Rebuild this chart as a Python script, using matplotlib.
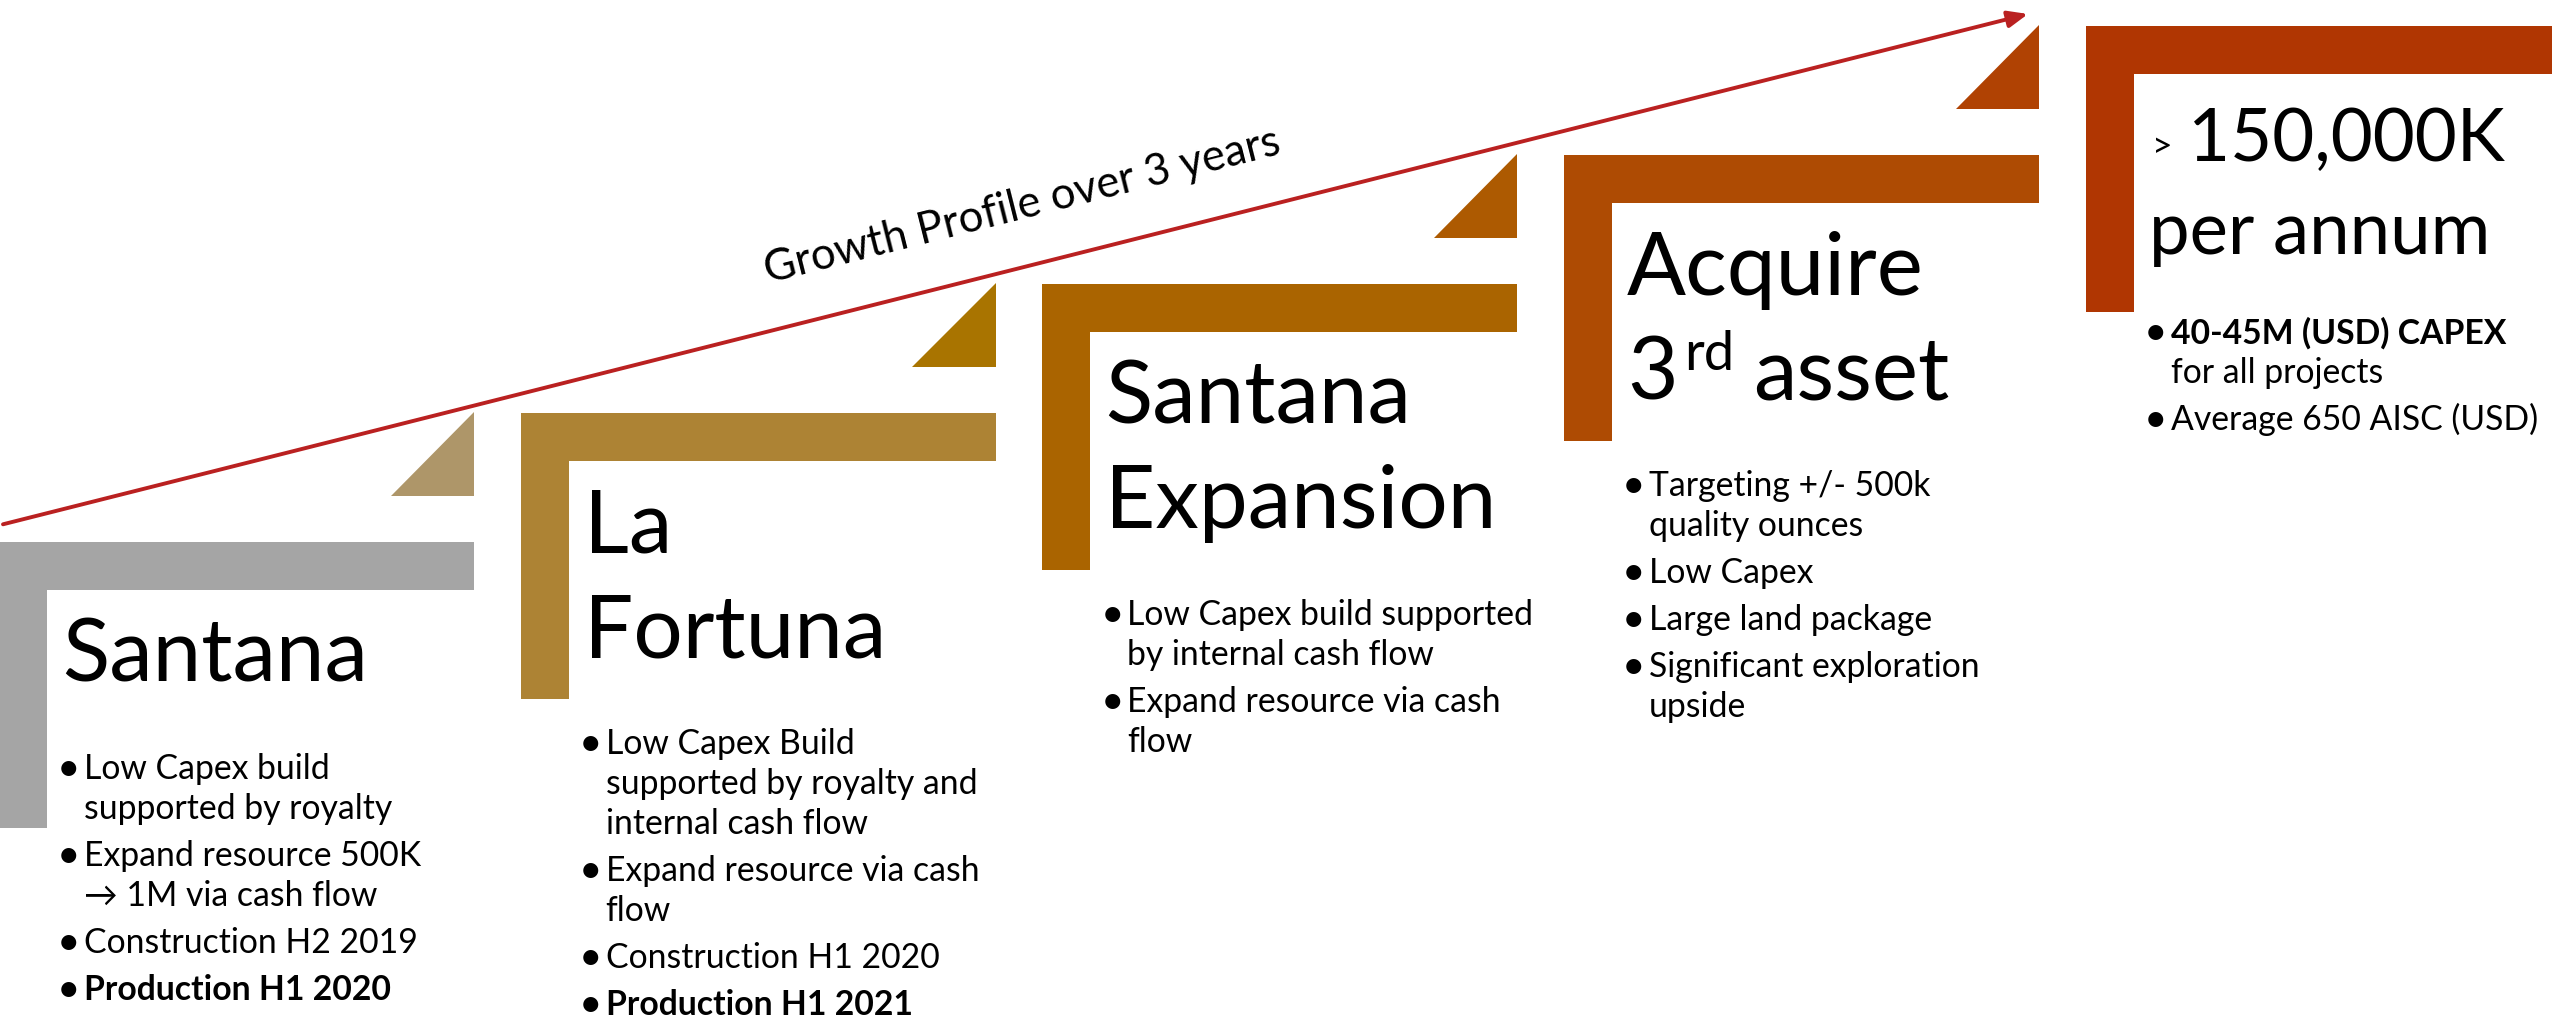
import math
import matplotlib
matplotlib.use("Agg")
import matplotlib.pyplot as plt
from matplotlib.patches import Polygon
from matplotlib.patches import ArrowStyle

plt.rcParams['font.family'] = ['Lato', 'DejaVu Sans']

W, H, DPI = 2552, 1025, 100

# ---------------- data ----------------
step_titles = ["Santana", "La\nFortuna", "Santana\nExpansion", "Acquire\n3rd asset", ">150,000K\nper annum"]
step_colors = ["#A5A5A5", "#AD8334", "#AA6400", "#AE4B03", "#B03602"]
marker_colors = ["#AE9669", "#A97400", "#AD5A01", "#B04203"]

santana_bullets = [["Low Capex build", "supported by royalty"],
                   ["Expand resource 500K", "\u2192 1M via cash flow"],
                   ["Construction H2 2019"],
                   ["Production H1 2020"]]
fortuna_bullets = [["Low Capex Build", "supported by royalty and", "internal cash flow"],
                   ["Expand resource via cash", "flow"],
                   ["Construction H1 2020"],
                   ["Production H1 2021"]]
expansion_bullets = [["Low Capex build supported", "by internal cash flow"],
                     ["Expand resource via cash", "flow"]]
acquire_bullets = [["Targeting +/- 500k", "quality ounces"],
                   ["Low Capex"],
                   ["Large land package"],
                   ["Significant exploration", "upside"]]
target_bullets = [["40-45M (USD) CAPEX", "for all projects"],
                  ["Average 650 AISC (USD)"]]
all_bullets = [santana_bullets, fortuna_bullets, expansion_bullets, acquire_bullets, target_bullets]
bold_lines = ["Production H1 2020", "Production H1 2021", "40-45M (USD) CAPEX"]
growth_label = "Growth Profile over 3 years"

# ---------------- figure ----------------
fig = plt.figure(figsize=(W / DPI, H / DPI), dpi=DPI)
ax = fig.add_axes([0, 0, 1, 1])
ax.set_xlim(0, W)
ax.set_ylim(H, 0)
ax.axis('off')
renderer = fig.canvas.get_renderer()


def text_width(s, size, weight='normal'):
    t = ax.text(0, 500, s, fontsize=size, fontweight=weight)
    w = t.get_window_extent(renderer).width
    t.remove()
    return w


def fit_size(s, target_px, weight='normal'):
    return 30 * target_px / text_width(s, 30, weight)


def right_edge(t):
    bb = t.get_window_extent(renderer)
    return bb.x1  # pixel == data x


TITLE = fit_size("Santana", 306)
TITLE_FINAL = fit_size("150,000K", 317)
BUL = fit_size("Low Capex build supported", 406)
GROW = fit_size(growth_label, 530)

# layout
STEP_DX, STEP_DY = 521.7, 129.0
X0, Y0 = -1.0, 542.3
BAR_LEN, BAR_T, L_H = 475.0, 48.0, 286.0

for i, (title, color, bullets) in enumerate(zip(step_titles, step_colors, all_bullets)):
    x0 = X0 + i * STEP_DX
    y0 = Y0 - i * STEP_DY
    L = [(x0, y0), (x0 + BAR_LEN, y0), (x0 + BAR_LEN, y0 + BAR_T), (x0 + BAR_T, y0 + BAR_T),
         (x0 + BAR_T, y0 + L_H), (x0, y0 + L_H)]
    ax.add_patch(Polygon(L, closed=True, facecolor=color, edgecolor='none', zorder=2))
    if i < len(marker_colors):
        r = x0 + BAR_LEN
        yb = y0 - 46
        tri = [(r - 83.5, yb), (r, yb), (r, yb - 84)]
        ax.add_patch(Polygon(tri, closed=True, facecolor=marker_colors[i], edgecolor='none', zorder=2))

    lines = title.split("\n")
    tx = x0 + 63
    if i == 4:
        base1, lstep, size = y0 + 134.7, 93.3, TITLE_FINAL
    else:
        base1, lstep, size = y0 + 139.5, 104.3, TITLE
    for k, ln in enumerate(lines):
        by = base1 + k * lstep
        if ln.startswith(">"):
            t1 = ax.text(tx + 3, by - 4, ">", fontsize=BUL * 1.05, ha='left', va='baseline', zorder=3)
            ax.text(right_edge(t1) + 16, by, ln[1:], fontsize=size, ha='left', va='baseline', zorder=3)
        elif "3rd" in ln:
            t1 = ax.text(tx, by, "3", fontsize=size, ha='left', va='baseline', zorder=3)
            t2 = ax.text(right_edge(t1) + 6, by - 29, "rd", fontsize=size * 0.62, ha='left',
                         va='baseline', zorder=3)
            ax.text(right_edge(t2) + size * 0.3, by, ln.split("rd", 1)[1].strip(), fontsize=size,
                    ha='left', va='baseline', zorder=3)
        else:
            ax.text(tx, by, ln, fontsize=size, ha='left', va='baseline', zorder=3)

    by = base1 + (len(lines) - 1) * lstep + (89 if i == 4 else 97)
    for j, b in enumerate(bullets):
        if j > 0:
            by += 47
        ax.text(x0 + 58, by + 2, "\u2022", fontsize=BUL * 1.2, ha='left', va='baseline', zorder=3)
        for k, ln in enumerate(b):
            if k > 0:
                by += 40
            ax.text(x0 + 85, by, ln, fontsize=BUL, ha='left', va='baseline',
                    fontweight='bold' if ln in bold_lines else 'normal', zorder=3)

# growth arrow
start, tip = (3.0, 524.3), (2028.0, 14.0)
ax.annotate('', xy=tip, xytext=start,
            arrowprops=dict(arrowstyle=ArrowStyle('-|>', head_length=12, head_width=5),
                            color='#BA2121', lw=2.8, shrinkA=0, shrinkB=0, mutation_scale=1),
            zorder=4)
ang = math.degrees(math.atan2(start[1] - tip[1], tip[0] - start[0]))
ax.text(768, 283, growth_label, fontsize=GROW, rotation=ang, rotation_mode='anchor',
        ha='left', va='baseline', zorder=3)

fig.savefig("out.png", dpi=DPI, facecolor='white')
